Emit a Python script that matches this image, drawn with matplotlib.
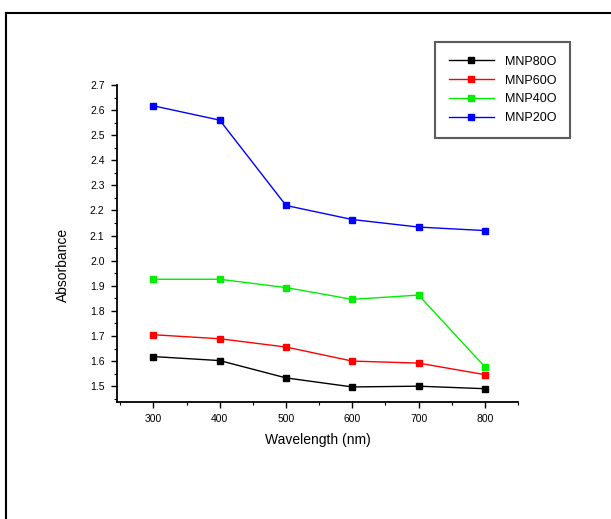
import matplotlib
matplotlib.use("Agg")
import matplotlib.pyplot as plt
from matplotlib.lines import Line2D
from matplotlib.ticker import MultipleLocator, FormatStrFormatter

plt.rcParams["font.family"] = ["Liberation Sans", "DejaVu Sans"]

wavelength = [300, 400, 500, 600, 700, 800]
mnp80o = [1.618, 1.602, 1.533, 1.497, 1.500, 1.490]
mnp60o = [1.705, 1.689, 1.656, 1.600, 1.592, 1.546]
mnp40o = [1.926, 1.926, 1.893, 1.846, 1.863, 1.577]
mnp20o = [2.617, 2.560, 2.220, 2.164, 2.134, 2.120]
labels = ["MNP80O", "MNP60O", "MNP40O", "MNP20O"]
colors = ["black", "#ff0000", "#00ee00", "#0000ff"]

fig = plt.figure(figsize=(6.11, 5.19), dpi=100)
ax = fig.add_axes([117/611, 1-402/519, (518-117)/611, (402-85)/519])

for ys, lab, c in zip([mnp80o, mnp60o, mnp40o, mnp20o], labels, colors):
    ax.plot(wavelength, ys, color=c, lw=1.0, marker="s", ms=3.8, label=lab)

ax.set_xlim(245, 850)
ax.set_ylim(1.437, 2.70)
ax.xaxis.set_major_locator(MultipleLocator(100))
ax.xaxis.set_minor_locator(MultipleLocator(50))
ax.yaxis.set_major_locator(MultipleLocator(0.1))
ax.yaxis.set_minor_locator(MultipleLocator(0.05))
ax.yaxis.set_major_formatter(FormatStrFormatter("%.1f"))
ax.set_xticks([300, 400, 500, 600, 700, 800])
ax.set_xticklabels(["300", "400", "500", "600", "700", "800"])
for s in ["top", "right"]:
    ax.spines[s].set_visible(False)
for s in ["left", "bottom"]:
    ax.spines[s].set_linewidth(1.3)
ax.tick_params(which="major", direction="out", length=4, width=1.0, labelsize=7.5, color="black", pad=5)
ax.tick_params(which="minor", direction="out", length=2, width=0.8)

fig.text(63/611, 1-265/519, "Absorbance", rotation=90, ha="center", va="center", fontsize=10)
fig.text(318/611, 1-440/519, "Wavelength (nm)", ha="center", va="center", fontsize=10)

leg = ax.legend(loc="upper left", bbox_to_anchor=(435/611, 1-42/519), bbox_transform=fig.transFigure,
                fontsize=9, frameon=True, fancybox=False, handlelength=3.6, labelspacing=0.55,
                borderpad=1.1, handletextpad=0.9, borderaxespad=0)
leg.get_frame().set_edgecolor("#333333")
leg.get_frame().set_linewidth(1.5)

fig.add_artist(Line2D([6/611, 6/611], [0, 1-13/519], transform=fig.transFigure, color="black", lw=1.5))
fig.add_artist(Line2D([6/611, 1], [1-13/519, 1-13/519], transform=fig.transFigure, color="black", lw=1.5))

fig.savefig("out.png", dpi=100)
